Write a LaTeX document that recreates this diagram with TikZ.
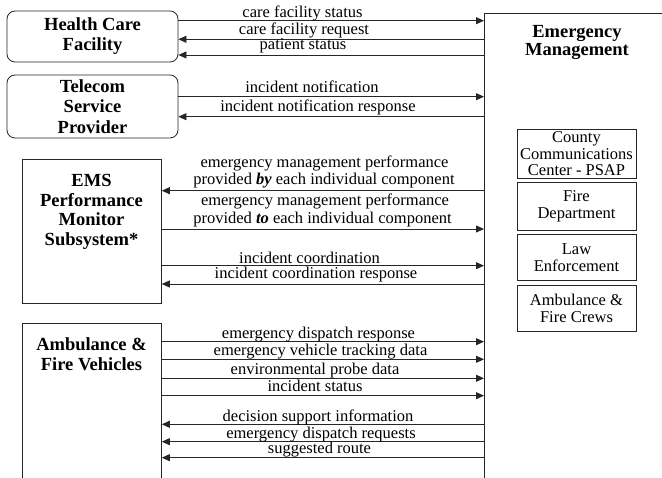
\documentclass[tikz,border=0pt]{standalone}
\usepackage{fontspec}
\setmainfont{Liberation Serif}
\usetikzlibrary{arrows.meta}
\tikzset{
  ln/.style={draw=black!85, line width=0.8pt},
  fl/.style={ln, -{Triangle[length=8pt,width=7pt]}},
  lbl/.style={font=\fontsize{16.5}{17}\selectfont, inner sep=0pt, anchor=base},
  ttl/.style={font=\bfseries\fontsize{18.5}{19.5}\selectfont, align=center, inner sep=0pt},
  ext/.style={ln, rounded corners=8pt, minimum width=171pt},
  sub/.style={ln, minimum width=119pt, align=center, inner sep=0pt, font=\fontsize{16.5}{16.5}\selectfont},
  sys/.style={ln, minimum width=139pt, inner sep=0pt, anchor=north west},
}
\begin{document}
\begin{tikzpicture}[x=1pt,y=-1pt]
\useasboundingbox (0,0) rectangle (662,478);
\clip (0,0) rectangle (662,478);
% external systems
\node[ext, ttl, font=\bfseries\fontsize{18.5}{20}\selectfont, minimum height=51pt] (hc) at (92.5,36.5) {Health Care\\Facility};
\node[ext, ttl, font=\bfseries\fontsize{18.5}{20.5}\selectfont, minimum height=63pt] (tsp) at (92.5,106.5) {Telecom\\Service\\Provider};
\node[sys, minimum height=144pt] (ems) at (22,159) {};
\node[ttl, font=\bfseries\fontsize{18.5}{19.7}\selectfont] (emst) at (91.5,212) {EMS\\Performance\\Monitor\\Subsystem*};
\node[sys, minimum height=200pt] (afv) at (22,323) {};
\node[ttl] (afvt) at (91.5,354) {Ambulance \&\\Fire Vehicles};
% emergency management
\node[ln, anchor=north west, minimum width=250pt, minimum height=520pt, inner sep=0pt] (em) at (484,13) {};
\node[ttl, font=\bfseries\fontsize{18.5}{18}\selectfont] (emt) at (577,42.5) {Emergency\\Management};
\node[sub, minimum height=49pt] (psap) at (576.5,153.8) {County\\Communications\\Center - PSAP};
\node[sub, minimum height=48pt] (fire) at (576.5,206.2) {Fire\\Department};
\node[sub, minimum height=46.5pt] (law) at (576.5,257.5) {Law\\Enforcement};
\node[sub, minimum height=46.7pt] (amb) at (576.5,308.4) {Ambulance \&\\Fire Crews};
% health care facility flows
\draw[fl] (hc.east |- 0,20.7) -- (em.west |- 0,20.7);
\node[lbl] (l1) at (302.5,17.7) {care facility status};
\draw[fl] (em.west |- 0,39.3) -- (hc.east |- 0,39.3);
\node[lbl] (l2) at (304,34.3) {care facility request};
\draw[fl] (em.west |- 0,55) -- (hc.east |- 0,55);
\node[lbl] (l3) at (303,50) {patient status};
% telecom flows
\draw[fl] (tsp.east |- 0,96.7) -- (em.west |- 0,96.7);
\node[lbl] (l4) at (312,92.7) {incident notification};
\draw[fl] (em.west |- 0,116.7) -- (tsp.east |- 0,116.7);
\node[lbl] (l5) at (318,111.7) {incident notification response};
% EMS performance monitor flows
\draw[fl] (em.west |- 0,190.7) -- (ems.east |- 0,190.7);
\node[lbl] (l6a) at (324.5,168) {emergency management performance};
\node[lbl] (l6b) at (324,185) {provided \textbf{\textit{by}} each individual component};
\draw[fl] (ems.east |- 0,229) -- (em.west |- 0,229);
\node[lbl] (l7a) at (325,206) {emergency management performance};
\node[lbl] (l7b) at (322.5,223.3) {provided \textbf{\textit{to}} each individual component};
\draw[fl] (ems.east |- 0,265.7) -- (em.west |- 0,265.7);
\node[lbl] (l8) at (309.5,263.3) {incident coordination};
\draw[fl] (em.west |- 0,284) -- (ems.east |- 0,284);
\node[lbl] (l9) at (316,278.3) {incident coordination response};
% vehicle flows
\draw[fl] (afv.east |- 0,341.7) -- (em.west |- 0,341.7);
\node[lbl] (l10) at (318.5,338.3) {emergency dispatch response};
\draw[fl] (afv.east |- 0,359.3) -- (em.west |- 0,359.3);
\node[lbl] (l11) at (320.5,356) {emergency vehicle tracking data};
\draw[fl] (afv.east |- 0,378.3) -- (em.west |- 0,378.3);
\node[lbl] (l12) at (315,374.3) {environmental probe data};
\draw[fl] (afv.east |- 0,395.7) -- (em.west |- 0,395.7);
\node[lbl] (l13) at (315,391.7) {incident status};
\draw[fl] (em.west |- 0,424.3) -- (afv.east |- 0,424.3);
\node[lbl] (l14) at (318,421.7) {decision support information};
\draw[fl] (em.west |- 0,441.7) -- (afv.east |- 0,441.7);
\node[lbl] (l15) at (321,438.3) {emergency dispatch requests};
\draw[fl] (em.west |- 0,457.7) -- (afv.east |- 0,457.7);
\node[lbl] (l16) at (319.5,453.3) {suggested route};
\end{tikzpicture}
\end{document}
